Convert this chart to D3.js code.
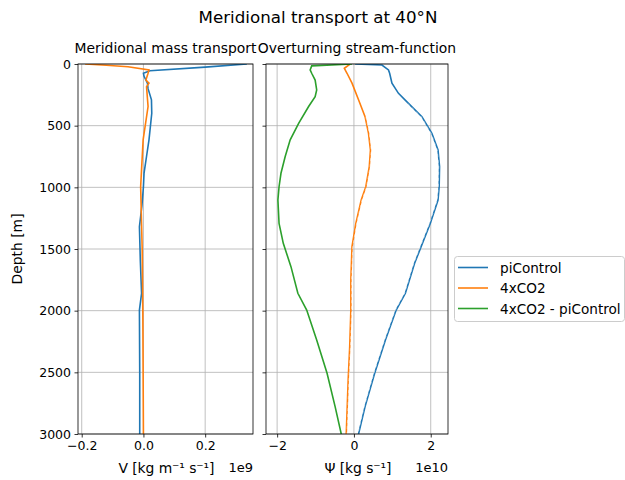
<!DOCTYPE html>
<html><head><meta charset="utf-8">
<script src="https://cdn.jsdelivr.net/npm/d3@7"></script>
<style>body{margin:0;background:#fff}svg{display:block}text{font-family:"DejaVu Sans",sans-serif;fill:#000}</style>
</head><body><svg id="c" width="625" height="480"></svg>
<script>
// ---- data ----
const seriesNames = ["piControl", "4xCO2", "4xCO2 - piControl"];
const seriesColors = ["#1f77b4", "#ff7f0e", "#2ca02c"];
const depthTicks = [0, 500, 1000, 1500, 2000, 2500, 3000];
const vTicks = [-0.2, 0.0, 0.2];
const vTickLabels = ["−0.2", "0.0", "0.2"];
const psiTicks = [-2, 0, 2];
const psiTickLabels = ["−2", "0", "2"];

// Meridional mass transport V (units 1e9)
const vPiDepth = [0, 25, 55, 75, 100, 155, 200, 290, 400, 615, 750, 885, 995, 1150, 1320, 1600, 1860, 1995, 2500, 3000];
const vPiVal   = [0.335, 0.2, 0.021, 0.0, 0.002, 0.013, 0.015, 0.026, 0.027, 0.018, 0.01, 0.002, 0.0, -0.005, -0.013, -0.01, -0.006, -0.013, -0.012, -0.012];
const v4xDepth = [0, 10, 22, 48, 75, 130, 155, 185, 345, 615, 995, 1500, 2000, 3000];
const v4xVal   = [-0.189, -0.12, -0.05, 0.018, 0.015, 0.008, 0.018, 0.01, 0.015, -0.001, -0.009, -0.004, -0.002, 0.0];

// Overturning stream-function Psi (units 1e10)
const psiPiDepth = [0, 8, 48, 75, 155, 238, 319, 427, 562, 697, 832, 995, 1103, 1292, 1481, 1616, 1859, 1995, 2238, 2508, 2778, 3000];
const psiPiVal   = [0.03, 0.73, 0.9, 0.93, 0.99, 1.16, 1.42, 1.77, 2.03, 2.19, 2.23, 2.22, 2.19, 1.99, 1.75, 1.58, 1.34, 1.10, 0.82, 0.54, 0.29, 0.12];
const psi4xDepth = [0, 35, 75, 155, 290, 427, 562, 697, 832, 995, 1103, 1292, 1481, 1751, 1995, 2292, 2562, 3000];
const psi4xVal   = [-0.1, -0.25, -0.18, -0.05, 0.12, 0.29, 0.38, 0.43, 0.4, 0.31, 0.19, 0.05, -0.05, -0.08, -0.08, -0.11, -0.15, -0.2];
const psiDiffDepth = [0, 15, 48, 75, 130, 210, 265, 345, 481, 615, 750, 886, 995, 1103, 1292, 1454, 1643, 1859, 1995, 2238, 2508, 2778, 3000];
const psiDiffVal   = [-0.05, -1.1, -1.14, -1.1, -1.01, -0.97, -1.01, -1.18, -1.44, -1.66, -1.79, -1.9, -1.95, -1.98, -1.95, -1.84, -1.64, -1.46, -1.23, -0.97, -0.7, -0.49, -0.33];

// ---- drawing ----
const svg = d3.select("#c");
const yTop = 64, yBot = 434;
const y = d3.scaleLinear().domain([0, 3000]).range([yTop, yBot]);
const xV = d3.scaleLinear().domain([-0.212, 0.355]).range([78, 253]);
const xP = d3.scaleLinear().domain([-2.29, 2.45]).range([266, 448]);
const zip = (d, v) => d.map((dd, i) => [v[i], dd]);

svg.append("text").attr("x", 318).attr("y", 23).attr("text-anchor", "middle")
  .style("font-size", "16.7px").text("Meridional transport at 40°N");

function panel(x, ticks, tickLabels, title, xlabel, xlabelW, offset, showY, series) {
  const [x0, x1] = x.range();
  const g = svg.append("g");
  const clipId = "clip" + Math.round(x0);
  svg.append("clipPath").attr("id", clipId).append("rect")
    .attr("x", x0).attr("y", yTop).attr("width", x1 - x0).attr("height", yBot - yTop);
  // grid
  g.selectAll(".gx").data(ticks).join("line").attr("x1", d => x(d)).attr("x2", d => x(d))
    .attr("y1", yTop).attr("y2", yBot).attr("stroke", "#b0b0b0").attr("stroke-width", 0.8);
  g.selectAll(".gy").data(depthTicks).join("line").attr("x1", x0).attr("x2", x1)
    .attr("y1", d => y(d)).attr("y2", d => y(d)).attr("stroke", "#b0b0b0").attr("stroke-width", 0.8);
  // lines
  const line = d3.line().x(d => x(d[0])).y(d => y(d[1]));
  const lg = svg.append("g").attr("clip-path", `url(#${clipId})`);
  series.forEach(s => {
    lg.append("path").datum(s.data).attr("d", line).attr("fill", "none")
      .attr("stroke", s.color).attr("stroke-width", 1.6);
    if (s.dash) {
      lg.append("path").datum(s.data.filter(p => p[1] > 300).map(p => [p[0] + s.dash, p[1]])).attr("d", line)
        .attr("fill", "none").attr("stroke", "#ffffff").attr("stroke-width", 0.8)
        .attr("stroke-dasharray", "3,3").attr("opacity", 0.6);
    }
  });
  // axes
  const ax = svg.append("g").attr("transform", `translate(0,${yBot})`)
    .call(d3.axisBottom(x).tickValues(ticks).tickSize(3.5).tickPadding(3.5)
      .tickFormat((d, i) => tickLabels[i]));
  ax.select(".domain").remove();
  ax.selectAll("line").attr("stroke", "#000").attr("stroke-width", 0.8);
  ax.selectAll("text").style("font-size", "12.5px").attr("font-family", "DejaVu Sans").attr("fill", "#000");
  const ay = svg.append("g").attr("transform", `translate(${x0},0)`)
    .call(d3.axisLeft(y).tickValues(depthTicks).tickSize(3.5).tickPadding(3.5).tickFormat(showY ? d3.format("d") : ""));
  ay.select(".domain").remove();
  ay.selectAll("line").attr("stroke", "#000").attr("stroke-width", 0.8);
  ay.selectAll("text").style("font-size", "12.5px").attr("font-family", "DejaVu Sans").attr("fill", "#000");
  // frame
  svg.append("rect").attr("x", x0).attr("y", yTop).attr("width", x1 - x0).attr("height", yBot - yTop)
    .attr("fill", "none").attr("stroke", "#000").attr("stroke-width", 0.8);
  svg.append("text").attr("x", (x0 + x1) / 2).attr("y", 53).attr("text-anchor", "middle")
    .style("font-size", "13.9px").text(title);
  svg.append("text").attr("x", (x0 + x1) / 2 + 1).attr("y", 473).attr("text-anchor", "middle")
    .style("font-size", "13.9px").attr("textLength", xlabelW).attr("lengthAdjust", "spacing").text(xlabel);
  svg.append("text").attr("x", x1).attr("y", 472).attr("text-anchor", "end")
    .style("font-size", "13px").text(offset);
}

panel(xV, vTicks, vTickLabels, "Meridional mass transport", "V [kg m⁻¹ s⁻¹]", 96, "1e9", true, [
  {data: zip(vPiDepth, vPiVal), color: seriesColors[0]},
  {data: zip(v4xDepth, v4xVal), color: seriesColors[1]}
]);
panel(xP, psiTicks, psiTickLabels, "Overturning stream-function", "Ψ [kg s⁻¹]", 67, "1e10", false, [
  {data: zip(psiPiDepth, psiPiVal), color: seriesColors[0], dash: -0.02},
  {data: zip(psi4xDepth, psi4xVal), color: seriesColors[1], dash: 0.02},
  {data: zip(psiDiffDepth, psiDiffVal), color: seriesColors[2]}
]);

svg.append("text").attr("transform", "translate(22,249) rotate(-90)").attr("text-anchor", "middle")
  .style("font-size", "13.9px").text("Depth [m]");

// legend
const lgd = svg.append("g");
lgd.append("rect").attr("x", 454.5).attr("y", 256.5).attr("width", 170).attr("height", 65).attr("rx", 3)
  .attr("fill", "#fff").attr("fill-opacity", 0.8).attr("stroke", "#cccccc").attr("stroke-width", 1);
seriesNames.forEach((n, i) => {
  const yy = 267.5 + i * 20.5;
  lgd.append("line").attr("x1", 458).attr("x2", 488).attr("y1", yy).attr("y2", yy)
    .attr("stroke", seriesColors[i]).attr("stroke-width", 1.6);
  lgd.append("text").attr("x", 500).attr("y", yy + 5).style("font-size", "13.6px").text(n);
});
</script></body></html>
